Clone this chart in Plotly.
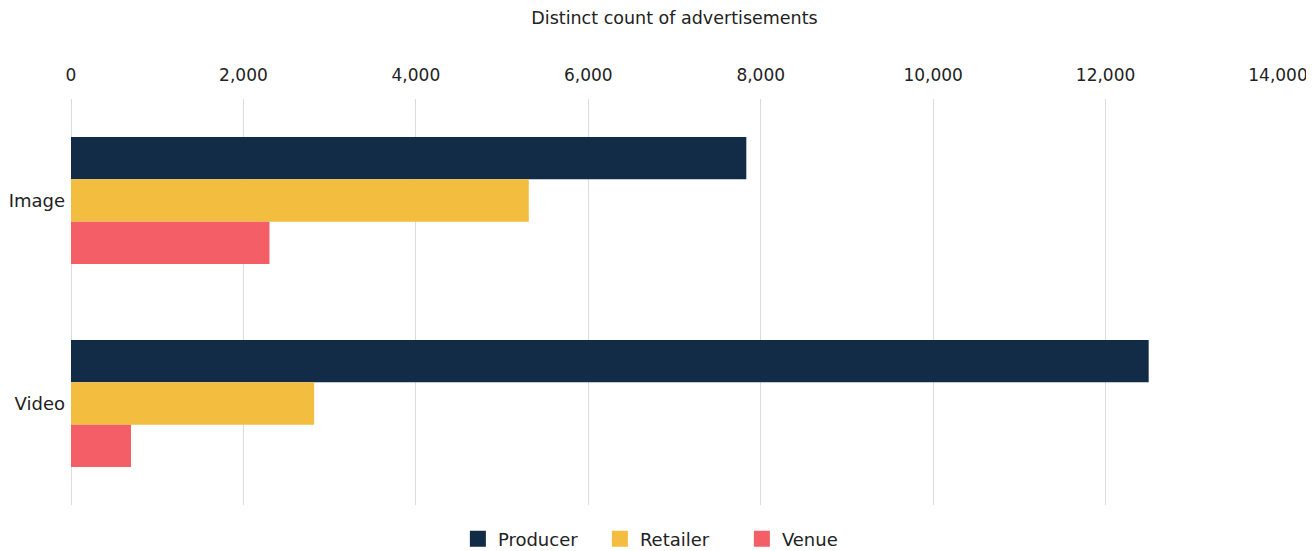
import plotly.graph_objects as go

categories = ["Image", "Video"]
series_names = ["Producer", "Retailer", "Venue"]
producer = [7833, 12500]
retailer = [5310, 2820]
venue = [2302, 696]
colors = ["#122c47", "#f3be40", "#f45f67"]
tick_vals = [0, 2000, 4000, 6000, 8000, 10000, 12000, 14000]

FONT = "'DejaVu Sans', sans-serif"
TXT = "#222222"

fig = go.Figure()
for name, vals, col in zip(series_names, [producer, retailer, venue], colors):
    fig.add_trace(go.Bar(
        y=categories, x=vals, name=name, orientation="h",
        marker=dict(color=col, line=dict(width=0)),
        showlegend=False,
    ))
# legend entries with larger square swatches
for name, col in zip(series_names, colors):
    fig.add_trace(go.Scatter(
        x=[None], y=[None], mode="markers", name=name,
        marker=dict(symbol="square", size=17, color=col),
        showlegend=True,
    ))

# page body has an 8px margin, so the figure is sized/offset to compensate
fig.update_layout(
    width=1306, height=543,
    barmode="group", bargap=0.375, bargroupgap=0,
    plot_bgcolor="white", paper_bgcolor="white",
    margin=dict(l=63, r=36, t=91, b=46, autoexpand=False),
    font=dict(family=FONT, color=TXT, size=16),
    showlegend=True,
    legend=dict(orientation="h", x=0.497, xanchor="center", y=-0.084, yanchor="middle",
                font=dict(size=18, color=TXT, family=FONT), traceorder="normal",
                itemsizing="trace", entrywidth=97),
    xaxis=dict(
        side="top", range=[0, 14000], tickvals=tick_vals,
        tickformat=",", showgrid=True, gridcolor="#dcdcdc", gridwidth=1,
        zeroline=True, zerolinecolor="#dcdcdc", zerolinewidth=1,
        showline=False, ticks="", tickfont=dict(size=17, color=TXT, family=FONT),
        ticklabelstandoff=14,
        title=dict(text="Distinct count of advertisements", font=dict(size=17.5, color=TXT, family=FONT), standoff=40),
        automargin=False,
    ),
    yaxis=dict(
        autorange="reversed", showgrid=False, showline=False, ticks="",
        tickfont=dict(size=18, color=TXT, family=FONT), ticklabelstandoff=5,
        automargin=False,
    ),
)

fig.write_html("out.html")
